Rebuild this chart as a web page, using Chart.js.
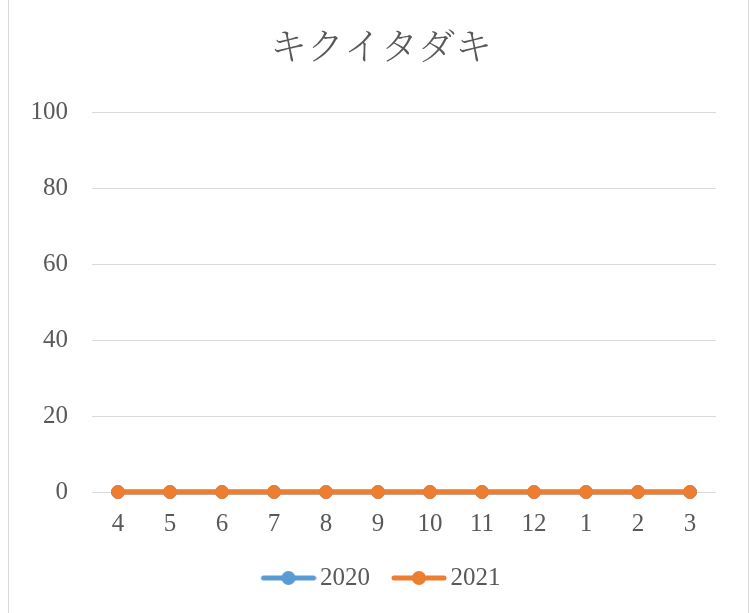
<!DOCTYPE html>
<html>
<head>
<meta charset="utf-8">
<script src="https://cdn.jsdelivr.net/npm/chart.js@4"></script>
<style>
  body { margin: 0; background: #fff; overflow: hidden; }
  #wrap { position: relative; width: 750px; height: 613px; }
  #frame { position: absolute; left: 8px; top: -2px; width: 739px; height: 620px; border: 1px solid #d9d9d9; }
  canvas { position: absolute; left: 0; top: 0; }
</style>
</head>
<body>
<div id="wrap">
  <div id="frame"></div>
  <canvas id="lineChart" width="750" height="613"></canvas>
</div>
<script>
// データ
const chartTitle = 'キクイタダキ';
const months = ['4', '5', '6', '7', '8', '9', '10', '11', '12', '1', '2', '3'];
const counts2020 = [0, 0, 0, 0, 0, 0, 0, 0, 0, 0, 0, 0];
const counts2021 = [0, 0, 0, 0, 0, 0, 0, 0, 0, 0, 0, 0];
const yTicks = [0, 20, 40, 60, 80, 100];

const serif = '"Liberation Serif", "DejaVu Serif", serif';
const textColor = '#595959';
const blue = '#5b9bd5';
const orange = '#ed7d31';

// 凡例用マーカー (線 + 丸)、右寄せで描く
function legendMarker(color) {
  const c = document.createElement('canvas');
  c.width = 72; c.height = 16;
  const g = c.getContext('2d');
  g.strokeStyle = color;
  g.lineWidth = 5;
  g.lineCap = 'round';
  g.beginPath(); g.moveTo(19, 8); g.lineTo(69, 8); g.stroke();
  g.fillStyle = color;
  g.beginPath(); g.arc(44, 8, 7, 0, Math.PI * 2); g.fill();
  return c;
}
const markers = [legendMarker(blue), legendMarker(orange)];

// タイトルと凡例を枠の中央へ寄せる
const centerShift = {
  id: 'centerShift',
  afterLayout(chart) {
    if (chart.titleBlock) { chart.titleBlock.left += 23; chart.titleBlock.right += 23; }
    if (chart.legend) { chart.legend.left += 19; chart.legend.right += 19; }
  }
};

const ctx = document.getElementById('lineChart').getContext('2d');
new Chart(ctx, {
    type: 'line',
    data: {
        labels: months,
        datasets: [{
            label: '2020',
            data: counts2020,
            borderColor: blue,
            backgroundColor: blue,
            borderWidth: 5,
            pointRadius: 6.5,
            pointBorderWidth: 1,
            clip: false,
            order: 1
        }, {
            label: '2021',
            data: counts2021,
            borderColor: orange,
            backgroundColor: orange,
            borderWidth: 5,
            pointRadius: 6.5,
            pointBorderWidth: 1,
            clip: false,
            order: 0
        }]
    },
    options: {
        responsive: false,
        animation: false,
        layout: { padding: { left: 0, right: 34, top: 0, bottom: 12.5 } },
        scales: {
            x: {
                offset: true,
                grid: { display: false, drawTicks: false },
                border: { display: false },
                ticks: { color: textColor, font: { family: serif, size: 25 }, padding: 17.5, maxRotation: 0 },
                afterFit: (s) => { s.height = 59.5; }
            },
            y: {
                min: 0,
                max: 100,
                afterBuildTicks: (s) => { s.ticks = yTicks.map(v => ({ value: v })); },
                grid: { color: '#d9d9d9', lineWidth: 1, drawTicks: false },
                border: { display: false },
                ticks: { color: textColor, font: { family: serif, size: 25 }, padding: 24 },
                afterFit: (s) => { s.width = 92; }
            }
        },
        plugins: {
            title: {
                display: true,
                text: chartTitle,
                color: textColor,
                font: { family: '"Noto Serif CJK JP", "Noto Sans CJK JP", sans-serif', size: 37, weight: 300 },
                padding: { top: 24, bottom: 44 }
            },
            legend: {
                position: 'bottom',
                labels: {
                    usePointStyle: true,
                    pointStyleWidth: 54,
                    padding: 14,
                    color: textColor,
                    font: { family: serif, size: 25 },
                    generateLabels: (chart) => chart.data.datasets.map((ds, i) => ({
                        text: ds.label,
                        pointStyle: markers[i],
                        fillStyle: ds.backgroundColor,
                        strokeStyle: ds.borderColor,
                        lineWidth: 0,
                        fontColor: textColor,
                        datasetIndex: i
                    }))
                }
            },
            tooltip: { enabled: false }
        }
    },
    plugins: [centerShift]
});
</script>
</body>
</html>
